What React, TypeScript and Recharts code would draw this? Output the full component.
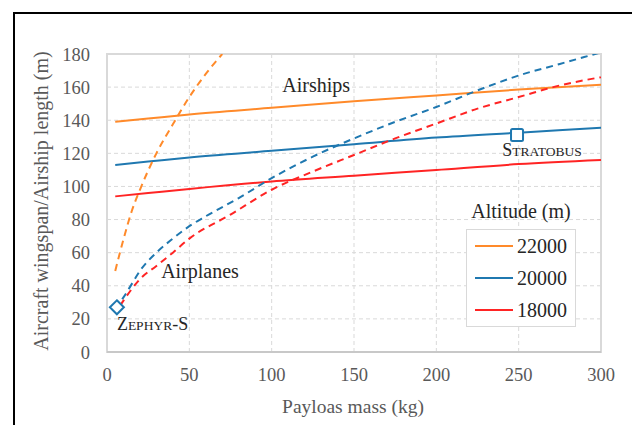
import React from 'react';
import {
  ComposedChart,
  Line,
  Scatter,
  XAxis,
  YAxis,
  CartesianGrid,
  ReferenceArea,
  ReferenceDot,
} from 'recharts';

// ---- Data ----
const airshipMass = [5, 25, 50, 100, 150, 200, 250, 300];
const airship22000 = [139, 141, 143.5, 147.5, 151.5, 155, 158.5, 161.5];
const airship20000 = [113, 115, 117.5, 121.5, 125.5, 129.5, 132.5, 135.5];
const airship18000 = [94, 96, 98.5, 103, 106.5, 110, 113.5, 116];

const plane22000Mass = [5, 10, 15, 20, 30, 40, 50, 60, 70];
const plane22000 = [49, 68, 85, 98, 120, 137.5, 154, 168, 180];

const plane20000Mass = [5, 10, 15, 20, 30, 40, 50, 60, 80, 100, 125, 150, 175, 200, 225, 250, 275, 300];
const plane20000 = [26, 33, 41, 49, 60, 68.5, 76, 82, 93, 105, 118, 129, 139, 148, 158, 167, 174, 181];

const plane18000Mass = [8, 10, 15, 20, 30, 40, 50, 75, 100, 125, 150, 175, 200, 225, 250, 275, 300];
const plane18000 = [28, 31, 38, 44, 52, 60, 68.5, 83, 98, 109, 119, 129, 138, 147, 154, 161, 166];

const zephyr = [{ x: 6, y: 27 }];
const stratobus = [{ x: 249, y: 131 }];

const xTicks = [0, 50, 100, 150, 200, 250, 300];
const yTicks = [0, 20, 40, 60, 80, 100, 120, 140, 160, 180];

const altitudeNames = ['22000', '20000', '18000'];

const pts = (xs: number[], ys: number[]) => xs.map((x, i) => ({ x, y: ys[i] }));

const ORANGE = '#FF8A2A';
const BLUE = '#1F78B0';
const RED = '#FF2424';
const altitudeColors = [ORANGE, BLUE, RED];
const SERIF = "'Liberation Serif', 'Times New Roman', serif";

const LegendBox = () => (
  <div style={{ position: 'absolute', left: 466, top: 199, fontFamily: SERIF, width: 110 }}>
    <div
      style={{
        fontSize: 20,
        color: '#262626',
        textAlign: 'center',
        lineHeight: '24px',
        height: 30,
      }}
    >
      Altitude (m)
    </div>
    <div style={{ border: '1px solid #d9d9d9', background: '#fff', width: 108 }}>
      {altitudeNames.map((n, i) => (
        <div key={n} style={{ display: 'flex', alignItems: 'center', height: 32, paddingLeft: 8 }}>
          <svg width={38} height={4} style={{ marginRight: 4 }}>
            <line x1={0} y1={2} x2={38} y2={2} stroke={altitudeColors[i]} strokeWidth={2} />
          </svg>
          <span style={{ fontSize: 20, color: '#262626', lineHeight: '20px' }}>{n}</span>
        </div>
      ))}
    </div>
  </div>
);

const Diamond = (props: any) => {
  const { cx, cy } = props;
  const s = 7;
  return (
    <path
      d={`M${cx},${cy - s} L${cx + s},${cy} L${cx},${cy + s} L${cx - s},${cy} Z`}
      fill="#fff"
      stroke={BLUE}
      strokeWidth={2}
    />
  );
};

const Square = (props: any) => {
  const { cx, cy } = props;
  const s = 6;
  return (
    <rect x={cx - s} y={cy - s} width={2 * s} height={2 * s} rx={1.5} fill="#fff" stroke={BLUE} strokeWidth={2} />
  );
};

const textLabel = (text: string) => (p: any) => (
  <text
    x={p.cx}
    y={p.cy}
    textAnchor="middle"
    dominantBaseline="central"
    fontFamily={SERIF}
    fontSize={20}
    fill="#262626"
  >
    {text}
  </text>
);

const smallCaps = (first: string, rest: string, tail: string) => (p: any) => (
  <text x={p.cx} y={p.cy} dy={6} textAnchor="start" fontFamily={SERIF} fill="#262626">
    <tspan fontSize={18}>{first}</tspan>
    <tspan fontSize={13.5}>{rest}</tspan>
    {tail ? <tspan fontSize={18}>{tail}</tspan> : null}
  </text>
);

export default function App() {
  return (
    <div style={{ position: 'absolute', left: 0, top: 0, width: 632, height: 425, background: '#fff', overflow: 'hidden' }}>
      <div
        style={{
          position: 'absolute',
          left: 13,
          top: 12,
          width: 640,
          height: 440,
          borderTop: '2px solid #000',
          borderLeft: '2px solid #000',
        }}
      />
      <div style={{ position: 'absolute', left: 0, top: 0 }}>
        <ComposedChart
          width={632}
          height={425}
          margin={{ top: 54, right: 31, bottom: 43, left: 51 }}
        >
          <CartesianGrid stroke="#d9d9d9" strokeDasharray="4 3" strokeWidth={1} />
          <XAxis
            type="number"
            dataKey="x"
            domain={[0, 300]}
            ticks={xTicks}
            allowDataOverflow
            tickLine={false}
            tickSize={0}
            tickMargin={16}
            height={30}
            axisLine={{ stroke: '#c8c8c8', strokeWidth: 2 }}
            tick={{ fontFamily: SERIF, fontSize: 18.5, fill: '#595959' }}
            label={() => (
              <text
                x={353}
                y={413}
                textAnchor="middle"
                fontFamily={SERIF}
                fontSize={19.5}
                fill="#595959"
              >
                Payloas mass (kg)
              </text>
            )}
          />
          <YAxis
            type="number"
            dataKey="y"
            domain={[0, 180]}
            ticks={yTicks}
            interval={0}
            allowDataOverflow
            width={56}
            tickLine={false}
            tickSize={0}
            tickMargin={17}
            axisLine={false}
            tick={{ fontFamily: SERIF, fontSize: 18.5, fill: '#595959' }}
            label={() => (
              <text
                x={41}
                y={201}
                transform="rotate(-90 41 201)"
                textAnchor="middle"
                dominantBaseline="central"
                fontFamily={SERIF}
                fontSize={20}
                fill="#595959"
              >
                Aircraft wingspan/Airship length (m)
              </text>
            )}
          />
          <ReferenceArea
            x1={0}
            x2={300}
            y1={0}
            y2={180}
            fill="none"
            fillOpacity={0}
            stroke="#d9d9d9"
            strokeWidth={2}
          />
          <Line
            data={pts(airshipMass, airship22000)}
            dataKey="y"
            name={altitudeNames[0]}
            type="monotone"
            stroke={ORANGE}
            strokeWidth={2}
            dot={false}
            isAnimationActive={false}
          />
          <Line
            data={pts(airshipMass, airship20000)}
            dataKey="y"
            name={altitudeNames[1]}
            type="monotone"
            stroke={BLUE}
            strokeWidth={2}
            dot={false}
            isAnimationActive={false}
          />
          <Line
            data={pts(airshipMass, airship18000)}
            dataKey="y"
            name={altitudeNames[2]}
            type="monotone"
            stroke={RED}
            strokeWidth={2}
            dot={false}
            isAnimationActive={false}
          />
          <Line
            data={pts(plane22000Mass, plane22000)}
            dataKey="y"
            name="p22000"
            type="monotone"
            stroke={ORANGE}
            strokeWidth={2}
            strokeDasharray="7 5"
            dot={false}
            isAnimationActive={false}
          />
          <Line
            data={pts(plane20000Mass, plane20000)}
            dataKey="y"
            name="p20000"
            type="monotone"
            stroke={BLUE}
            strokeWidth={2}
            strokeDasharray="7 5"
            dot={false}
            isAnimationActive={false}
          />
          <Line
            data={pts(plane18000Mass, plane18000)}
            dataKey="y"
            name="p18000"
            type="monotone"
            stroke={RED}
            strokeWidth={2}
            strokeDasharray="7 5"
            dot={false}
            isAnimationActive={false}
          />
          <Scatter data={zephyr} dataKey="y" name="Zephyr-S" shape={Diamond} isAnimationActive={false} />
          <Scatter data={stratobus} dataKey="y" name="Stratobus" shape={Square} isAnimationActive={false} />
          <ReferenceDot x={127} y={161} r={0} shape={textLabel('Airships')} />
          <ReferenceDot x={56.5} y={49} r={0} shape={textLabel('Airplanes')} />
          <ReferenceDot x={6} y={17} r={0} shape={smallCaps('Z', 'EPHYR', '-S')} />
          <ReferenceDot x={240} y={122} r={0} shape={smallCaps('S', 'TRATOBUS', '')} />
        </ComposedChart>
      </div>
      <LegendBox />
    </div>
  );
}
